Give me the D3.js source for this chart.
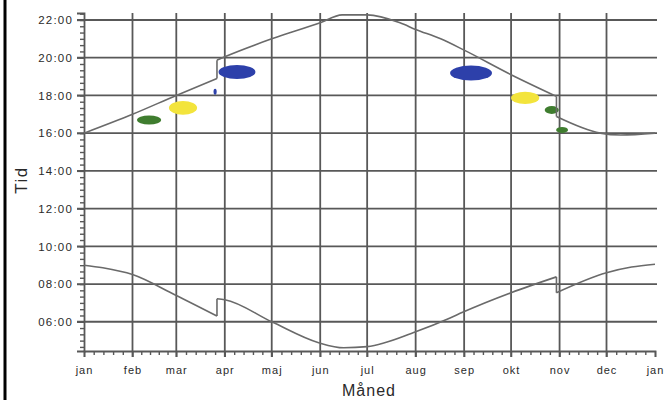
<!DOCTYPE html>
<html>
<head>
<meta charset="utf-8">
<script src="https://cdn.jsdelivr.net/npm/d3@7"></script>
<style>
  body { margin: 0; background: #fff; }
  svg { display: block; }
  text { font-family: "Liberation Sans", Arial, sans-serif; fill: #2a2a2a; }
</style>
</head>
<body>
<div id="chart"></div>
<script>
// månedsstart (dag i året) og navne
const monthStarts = [0, 31, 59, 90, 120, 151, 181, 212, 243, 273, 304, 334, 365];
const monthLabels = ["jan", "feb", "mar", "apr", "maj", "jun", "jul", "aug", "sep", "okt", "nov", "dec", "jan"];
const hourTicks = [6, 8, 10, 12, 14, 16, 18, 20, 22];

// solnedgang [dag, timer]
const sunset = [
  [0, 16.0], [31, 17.0], [59, 18.0], [85, 18.9], [85, 19.87], [90, 20.05],
  [120, 21.0], [151, 21.85], [165, 22.27], [181, 22.27], [202, 21.85],
  [212, 21.5], [228, 21.0], [243, 20.4], [273, 19.1], [302, 17.95],
  [302, 16.88], [330, 16.0], [343, 15.9], [365, 16.0]
];

// solopgang [dag, timer]
const sunrise = [
  [0, 9.0], [12, 8.86], [31, 8.5], [58, 7.43], [85, 6.3], [85, 7.22],
  [90, 7.17], [120, 6.0], [150, 4.89], [166, 4.62], [181, 4.68],
  [212, 5.47], [234, 6.2], [242, 6.5], [273, 7.54], [302, 8.38],
  [302, 7.54], [334, 8.6], [350, 8.9], [365, 9.05]
];

// observationer: midterdag, tid, halv bredde (dage), halv højde (timer), gruppe
const obsDay    = [41.6, 63.3, 83.8, 97.8, 247.4, 282, 299, 305.6];
const obsHour   = [16.7, 17.34, 18.19, 19.24, 19.19, 17.87, 17.23, 16.17];
const obsDays   = [7.7, 9, 1, 11.8, 13.4, 9, 4.5, 3.8];
const obsHours  = [0.24, 0.37, 0.16, 0.37, 0.4, 0.32, 0.21, 0.16];
const obsGroup  = ["green", "yellow", "blue", "blue", "blue", "yellow", "green", "green"];
const groupColor = { green: "#3f7d2f", yellow: "#f3e43c", blue: "#2d40aa" };

const width = 669, height = 400;
const svg = d3.select("#chart").append("svg")
  .attr("width", width).attr("height", height);

// venstre kant
svg.append("line")
  .attr("x1", 5).attr("x2", 5).attr("y1", 0).attr("y2", height)
  .attr("stroke", "#000").attr("stroke-width", 3);

const x = d3.scaleLinear().domain([0, 365]).range([84, 655]);
const y = d3.scaleLinear().domain([4.45, 22.37]).range([351, 13]);

const gridColor = "#585858";

// vandrette gitterlinjer
svg.append("g").selectAll("line")
  .data(hourTicks)
  .enter().append("line")
  .attr("x1", x(0) - 7).attr("x2", x(365) + 2)
  .attr("y1", d => y(d)).attr("y2", d => y(d))
  .attr("stroke", gridColor).attr("stroke-width", 1.8);

// lodrette gitterlinjer
svg.append("g").selectAll("line")
  .data(monthStarts.slice(1, 12))
  .enter().append("line")
  .attr("x1", d => x(d)).attr("x2", d => x(d))
  .attr("y1", y.range()[1]).attr("y2", y.range()[0] + 6)
  .attr("stroke", gridColor).attr("stroke-width", 1.8);

// små streger x
const minorX = [];
for (let i = 0; i < 12; i++) {
  const a = monthStarts[i], b = monthStarts[i + 1];
  for (let k = 1; k < 5; k++) minorX.push(a + (b - a) * k / 5);
}
const xMinor = svg.append("g")
  .attr("transform", `translate(0,${y.range()[0]})`)
  .call(d3.axisBottom(x).tickValues(minorX).tickSize(4).tickFormat(""));

const xAxis = svg.append("g")
  .attr("transform", `translate(0,${y.range()[0]})`)
  .call(d3.axisBottom(x).tickValues(monthStarts).tickSize(6).tickPadding(9)
    .tickFormat((d, i) => monthLabels[i]));

// små streger y
const minorY = d3.range(4.6667, 22.37, 1 / 3);
const yMinor = svg.append("g")
  .attr("transform", `translate(${x(0)},0)`)
  .call(d3.axisLeft(y).tickValues(minorY).tickSize(4).tickFormat(""));

const yAxis = svg.append("g")
  .attr("transform", `translate(${x(0)},0)`)
  .call(d3.axisLeft(y).tickValues(hourTicks).tickSize(7).tickPadding(4)
    .tickFormat(d => String(d).padStart(2, "0") + ":00"));

[xMinor, xAxis, yMinor, yAxis].forEach(g => {
  g.selectAll(".domain").attr("stroke", gridColor).attr("stroke-width", 1.8);
  g.selectAll(".tick line").attr("stroke", gridColor).attr("stroke-width", 1.4);
});
xMinor.select(".domain").remove();
yMinor.select(".domain").remove();

xAxis.selectAll("text")
  .style("font-size", "11px").style("letter-spacing", "1px").attr("fill", "#2a2a2a");
yAxis.selectAll("text")
  .style("font-size", "11.5px").style("letter-spacing", "1.2px").attr("fill", "#2a2a2a");

// observationer
svg.append("g").selectAll("ellipse")
  .data(obsDay.map((d, i) => i))
  .enter().append("ellipse")
  .attr("cx", i => x(obsDay[i]))
  .attr("cy", i => y(obsHour[i]))
  .attr("rx", i => x(obsDay[i] + obsDays[i]) - x(obsDay[i]))
  .attr("ry", i => y(obsHour[i]) - y(obsHour[i] + obsHours[i]))
  .attr("fill", i => groupColor[obsGroup[i]]);

// kurver: glatte stykker, lodrette spring ved sommertid
const smooth = d3.line().x(d => x(d[0])).y(d => y(d[1])).curve(d3.curveMonotoneX);
const straight = d3.line().x(d => x(d[0])).y(d => y(d[1]));

function pieces(data) {
  const parts = [[data[0]]], jumps = [];
  for (let i = 1; i < data.length; i++) {
    if (data[i][0] === data[i - 1][0]) {
      jumps.push([data[i - 1], data[i]]);
      parts.push([data[i]]);
    } else {
      parts[parts.length - 1].push(data[i]);
    }
  }
  return { parts, jumps };
}

[sunset, sunrise].forEach(data => {
  const p = pieces(data);
  const g = svg.append("g")
    .attr("fill", "none")
    .attr("stroke", "#6a6a6a")
    .attr("stroke-width", 1.6);
  p.parts.forEach(part => g.append("path").attr("d", smooth(part)));
  p.jumps.forEach(j => g.append("path").attr("d", straight(j)));
});

// aksetitler
svg.append("text")
  .attr("x", 369).attr("y", 396)
  .attr("text-anchor", "middle")
  .style("font-size", "16px").style("letter-spacing", "1px")
  .text("Måned");

svg.append("text")
  .attr("transform", "translate(27,180) rotate(-90)")
  .attr("text-anchor", "middle")
  .style("font-size", "17px").style("letter-spacing", "1.5px")
  .text("Tid");
</script>
</body>
</html>
